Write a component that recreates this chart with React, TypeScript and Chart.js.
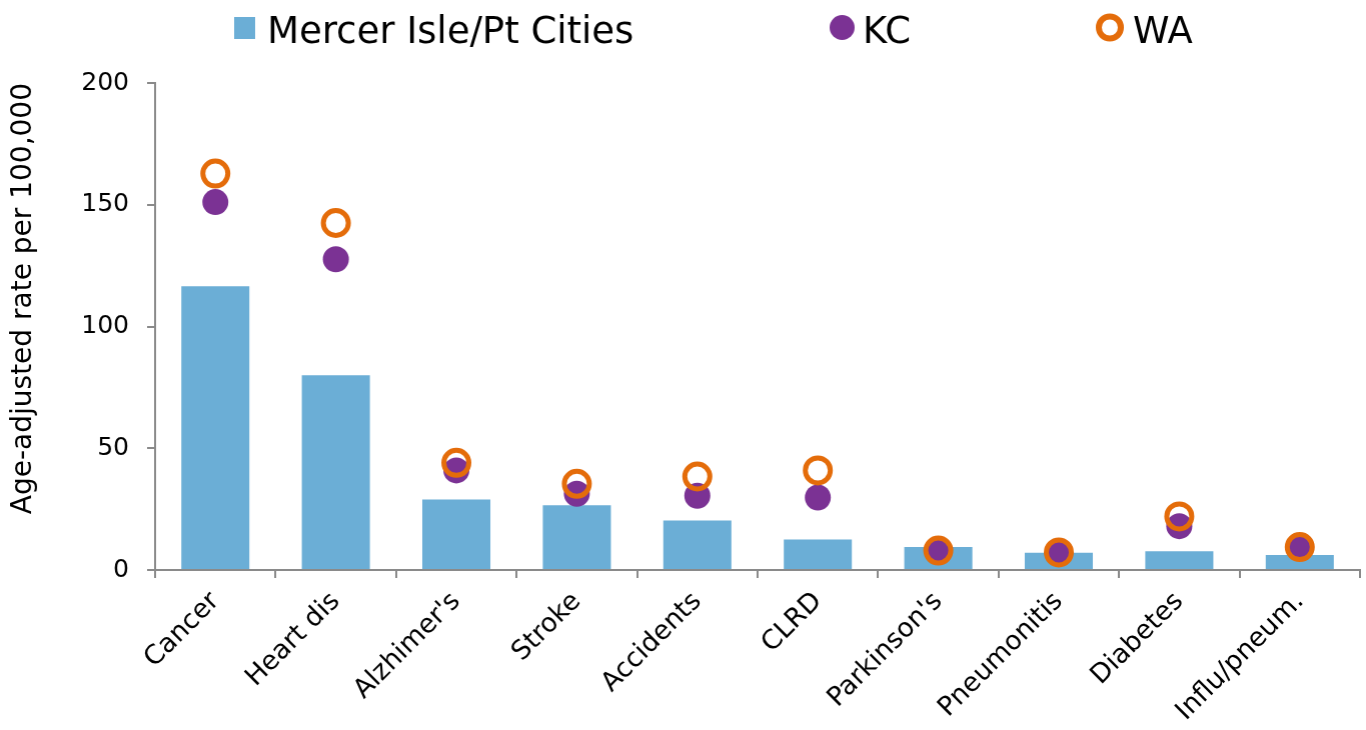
import React, { useEffect, useRef } from "react";
import { Chart, registerables } from "chart.js";

Chart.register(...registerables);

const categories = [
  "Cancer",
  "Heart dis",
  "Alzhimer's",
  "Stroke",
  "Accidents",
  "CLRD",
  "Parkinson's",
  "Pneumonitis",
  "Diabetes",
  "Influ/pneum.",
];
const seriesNames = ["Mercer Isle/Pt Cities", "KC", "WA"];
const mercerValues = [116.5, 80, 29, 26.6, 20.3, 12.5, 9.4, 7.1, 7.7, 6.2];
const kcValues = [151.1, 127.6, 40.9, 31.3, 30.5, 29.8, 8.0, 7.2, 18.0, 9.4];
const waValues = [162.8, 142.5, 44.0, 35.4, 38.4, 40.9, 8.0, 7.2, 22.0, 9.4];
const yTicks = [0, 50, 100, 150, 200];
const yTitle = "Age-adjusted rate per 100,000";

const FONT = "'DejaVu Sans', sans-serif";
const BAR_COLOR = "#6baed6";
const KC_COLOR = "#7b3294";
const WA_COLOR = "#e46c0a";
const AXIS_COLOR = "#8a8a8a";

const legendPlugin = {
  id: "customLegend",
  afterDraw(chart: any) {
    const ctx = chart.ctx as CanvasRenderingContext2D;
    const ds = chart.data.datasets;
    ctx.save();
    ctx.font = `37px ${FONT}`;
    ctx.textAlign = "left";
    ctx.textBaseline = "alphabetic";

    // Item 1: square
    ctx.fillStyle = ds[0].backgroundColor;
    ctx.fillRect(234, 17, 21, 22);
    ctx.fillStyle = "#000";
    ctx.fillText(ds[0].label, 267, 43);

    // Item 2: filled circle
    ctx.beginPath();
    ctx.arc(841.5, 27.5, 12.5, 0, Math.PI * 2);
    ctx.fillStyle = ds[1].pointBackgroundColor;
    ctx.fill();
    ctx.fillStyle = "#000";
    ctx.fillText(ds[1].label, 862, 43);

    // Item 3: ring
    ctx.beginPath();
    ctx.arc(1109, 27.5, 11, 0, Math.PI * 2);
    ctx.strokeStyle = ds[2].pointBorderColor;
    ctx.lineWidth = 6;
    ctx.stroke();
    ctx.fillStyle = "#000";
    ctx.fillText(ds[2].label, 1132, 43);
    ctx.restore();
  },
};

export default function App() {
  const canvasRef = useRef<HTMLCanvasElement | null>(null);

  useEffect(() => {
    if (!canvasRef.current) return;
    const chart = new Chart(canvasRef.current, {
      type: "bar",
      data: {
        labels: categories,
        datasets: [
          {
            type: "bar",
            label: seriesNames[0],
            data: mercerValues,
            backgroundColor: BAR_COLOR,
            borderWidth: 0,
            barPercentage: 0.565,
            categoryPercentage: 1,
            order: 3,
          } as any,
          {
            type: "line",
            label: seriesNames[1],
            data: kcValues,
            showLine: false,
            pointRadius: 13,
            pointHoverRadius: 13,
            pointBackgroundColor: KC_COLOR,
            pointBorderColor: KC_COLOR,
            pointBorderWidth: 0,
            order: 2,
          } as any,
          {
            type: "line",
            label: seriesNames[2],
            data: waValues,
            showLine: false,
            pointRadius: 12.5,
            pointHoverRadius: 12.5,
            pointBackgroundColor: "rgba(0,0,0,0)",
            pointBorderColor: WA_COLOR,
            pointBorderWidth: 5,
            order: 1,
          } as any,
        ],
      },
      options: {
        responsive: true,
        maintainAspectRatio: false,
        animation: false,
        layout: { padding: { top: 83, right: 7, left: 0, bottom: 0 } },
        plugins: {
          legend: { display: false },
          tooltip: { enabled: false },
        },
        scales: {
          x: {
            type: "category",
            offset: true,
            grid: {
              display: true,
              drawOnChartArea: false,
              drawTicks: true,
              tickLength: 8,
              color: AXIS_COLOR,
              lineWidth: 2,
              offset: true,
            },
            border: { display: true, color: AXIS_COLOR, width: 2 },
            ticks: {
              font: { family: FONT, size: 26.5 },
              color: "#000",
              maxRotation: 45,
              minRotation: 45,
              padding: 8,
              autoSkip: false,
            },
            afterFit: (s: any) => {
              s.height = 160;
              s.paddingLeft = 0;
              s.paddingRight = 0;
            },
          },
          y: {
            min: 0,
            max: 200,
            ticks: {
              stepSize: 50,
              font: { family: FONT, size: 25 },
              color: "#000",
              padding: 18,
            },
            afterBuildTicks: (s: any) => {
              s.ticks = yTicks.map((v) => ({ value: v }));
            },
            grid: {
              drawOnChartArea: false,
              drawTicks: true,
              tickLength: 8,
              color: AXIS_COLOR,
              lineWidth: 2,
            },
            border: { display: true, color: AXIS_COLOR, width: 2 },
            title: {
              display: true,
              text: yTitle,
              font: { family: FONT, size: 28 },
              color: "#000",
              align: "end",
              padding: { top: 7, bottom: 0 },
            },
            afterFit: (s: any) => {
              s.width = 155;
            },
          },
        },
      } as any,
      plugins: [legendPlugin],
    });
    return () => chart.destroy();
  }, []);

  return (
    <div
      style={{
        position: "fixed",
        left: 0,
        top: 0,
        width: 1366,
        height: 730,
        overflow: "hidden",
        background: "#fff",
      }}
    >
      <div style={{ position: "absolute", left: 0, top: 0, width: 1376.5, height: 730 }}>
        <canvas ref={canvasRef} />
      </div>
    </div>
  );
}
